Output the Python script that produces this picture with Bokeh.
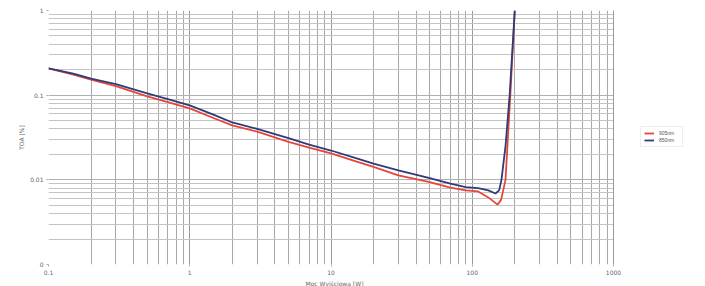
from bokeh.plotting import figure
from bokeh.models import (FixedTicker, CustomJSTickFormatter, Legend, LegendItem,
                          BoxAnnotation, Span, Title)
from bokeh.embed import file_html
from bokeh.resources import INLINE
import math

# Series 1 (red, lower)
x_red = [0.1, 0.15, 0.2, 0.3, 0.5, 0.7, 1, 1.5, 2, 3, 5, 7, 10, 15, 20, 30, 50, 70, 90, 110, 130, 151, 160, 172, 186, 200]
y_red = [0.207, 0.175, 0.153, 0.128, 0.097, 0.083, 0.0697, 0.053, 0.0439, 0.037, 0.028, 0.024, 0.0205,
         0.0165, 0.0142, 0.0113, 0.0094, 0.0081, 0.0075, 0.0073, 0.0062, 0.0051, 0.0058, 0.010, 0.1, 1.0]

# Series 2 (blue, upper)
x_blue = [0.1, 0.15, 0.2, 0.3, 0.5, 0.7, 1, 1.5, 2, 3, 5, 7, 10, 15, 20, 30, 50, 70, 90, 110, 130, 146, 155, 161, 172, 184, 200]
y_blue = [0.207, 0.18, 0.157, 0.135, 0.105, 0.09, 0.0756, 0.058, 0.0476, 0.040, 0.031, 0.026, 0.0222,
          0.018, 0.0155, 0.0129, 0.0105, 0.0090, 0.0082, 0.0080, 0.0075, 0.0069, 0.0075, 0.010, 0.025, 0.1, 1.0]

series_names = ["905nm", "850nm"]

x_tick_vals = [0.1, 1, 10, 100, 1000]
x_tick_labels = ["0.1", "1", "10", "100", "1000"]
y_tick_vals = [0.001, 0.01, 0.1, 1]
y_tick_labels = ["0", "0.01", "0.1", "1"]

x_title = "Moc Wyjściowa [W]"
y_title = "TOA [%]"

# layout geometry (pixels)
W, H = 705, 286
left_px, top_px, bottom_px = 48, 10, 20
plot_w = 565                      # width of the 0.1..1000 area
frame_w = W - left_px             # frame extended to the right to host the legend
x_lo, x_hi = x_tick_vals[0], x_tick_vals[-1]
decades = math.log10(x_hi / x_lo)
x_end = x_lo * 10 ** (decades * frame_w / plot_w)

p = figure(width=W, height=H, x_axis_type="log", y_axis_type="log",
           x_range=(x_lo, x_end), y_range=(0.001, 1),
           output_backend="svg", toolbar_location=None,
           min_border_left=left_px, min_border_right=0, min_border_top=top_px,
           min_border_bottom=bottom_px)
p.background_fill_color = "white"
p.border_fill_color = "white"
p.outline_line_color = None

x_minor = [m * 10.0 ** e for e in range(-1, 3) for m in range(2, 10)]
y_minor = [m * 10.0 ** e for e in range(-3, 0) for m in range(2, 10)]

fmt_code = """
let best = 0, bd = 1e9;
for (let i = 0; i < vals.length; i++) {
  const d = Math.abs(Math.log10(tick) - Math.log10(vals[i]));
  if (d < bd) { bd = d; best = i; }
}
return labels[best];
"""
p.xaxis.ticker = FixedTicker(ticks=x_tick_vals, minor_ticks=x_minor)
p.yaxis.ticker = FixedTicker(ticks=y_tick_vals, minor_ticks=y_minor)
p.xaxis.formatter = CustomJSTickFormatter(args=dict(vals=x_tick_vals, labels=x_tick_labels), code=fmt_code)
p.yaxis.formatter = CustomJSTickFormatter(args=dict(vals=y_tick_vals, labels=y_tick_labels), code=fmt_code)

for ax in (p.xaxis, p.yaxis):
    ax.axis_line_color = None
    ax.major_tick_line_color = "#aaaaaa"
    ax.major_tick_out = 2
    ax.major_tick_in = 0
    ax.minor_tick_line_color = None
    ax.major_label_text_font_size = "6px"
    ax.major_label_text_color = "#666666"
    ax.major_label_text_font = "DejaVu Sans"
    ax.axis_label_text_font_size = "6px"
    ax.axis_label_text_color = "#666666"
    ax.axis_label_text_font_style = "normal"
    ax.axis_label_text_font = "DejaVu Sans"
    ax.axis_label_standoff = 2
    ax.major_label_standoff = 1

p.yaxis.axis_label = y_title

p.xgrid.grid_line_color = "#999999"
p.ygrid.grid_line_color = "#b0b0b0"
p.xgrid.minor_grid_line_color = "#a8a8a8"
p.ygrid.minor_grid_line_color = "#c4c4c4"

r_red = p.line(x_red, y_red, line_color="#e8453a", line_width=1.8)
r_blue = p.line(x_blue, y_blue, line_color="#2e3c78", line_width=1.8)

# blank out the area right of 1000 (legend area)
p.add_layout(BoxAnnotation(left=x_hi * 1.004, fill_color="white", fill_alpha=1, line_color=None))
p.add_layout(Span(location=x_hi, dimension="height", line_color="#999999", line_width=1))

xt = Title(text=x_title, align="left", offset=257, text_font_size="6px",
           text_color="#666666", text_font_style="normal", text_font="DejaVu Sans", standoff=0)
p.add_layout(xt, "below")

legend = Legend(items=[LegendItem(label=series_names[0], renderers=[r_red]),
                       LegendItem(label=series_names[1], renderers=[r_blue])],
                location=(592, 117))
legend.label_text_font_size = "5px"
legend.label_text_color = "#555555"
legend.glyph_width = 10
legend.glyph_height = 6
legend.label_height = 6
legend.spacing = 1
legend.padding = 3
legend.margin = 0
legend.border_line_color = "#dddddd"
legend.background_fill_alpha = 1
p.add_layout(legend, "center")

open("out.html", "w").write(file_html(p, INLINE))
